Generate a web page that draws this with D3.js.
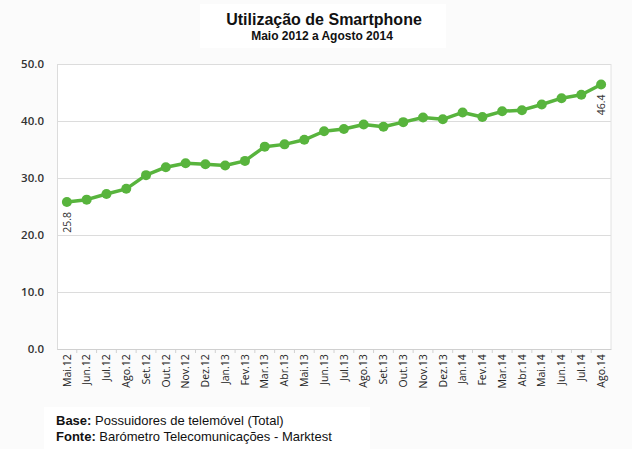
<!DOCTYPE html>
<html>
<head>
<meta charset="utf-8">
<script src="https://cdn.jsdelivr.net/npm/d3@7"></script>
<style>
  html, body { margin: 0; padding: 0; background: #fbfbfb; }
  svg { display: block; }
</style>
</head>
<body>
<div id="chart"></div>
<script>
// Months, May 2012 to August 2014
const months = ['Mai.12','Jun.12','Jul.12','Ago.12','Set.12','Out.12','Nov.12','Dez.12',
  'Jan.13','Fev.13','Mar.13','Abr.13','Mai.13','Jun.13','Jul.13','Ago.13','Set.13','Out.13','Nov.13','Dez.13',
  'Jan.14','Fev.14','Mar.14','Abr.14','Mai.14','Jun.14','Jul.14','Ago.14'];

// % smartphone usage
const usage = [25.8, 26.2, 27.2, 28.1, 30.5, 31.9, 32.6, 32.4, 32.2, 33.0, 35.5, 35.9, 36.7, 38.2,
  38.6, 39.4, 39.0, 39.8, 40.6, 40.3, 41.5, 40.7, 41.7, 41.9, 42.9, 44.0, 44.6, 46.4];

const yTicks = [0, 10, 20, 30, 40, 50];

const W = 632, H = 449;
const margin = { top: 64, right: 21, bottom: 100, left: 57 };
const iW = W - margin.left - margin.right;
const iH = H - margin.top - margin.bottom;
const green = '#58b43d';

const svg = d3.select('#chart')
  .append('svg')
  .attr('width', W)
  .attr('height', H);

// Title block
svg.append('rect')
  .attr('x', 200).attr('y', 4).attr('width', 246).attr('height', 44)
  .attr('fill', '#fff');

svg.append('text')
  .attr('x', 324).attr('y', 25)
  .attr('text-anchor', 'middle')
  .attr('font-family', 'Liberation Sans, Arial, sans-serif')
  .attr('font-weight', 'bold').attr('font-size', '16px').attr('fill', '#111')
  .text('Utilização de Smartphone');

svg.append('text')
  .attr('x', 322).attr('y', 40)
  .attr('text-anchor', 'middle')
  .attr('font-family', 'Liberation Sans, Arial, sans-serif')
  .attr('font-weight', 'bold').attr('font-size', '12px').attr('fill', '#111')
  .text('Maio 2012 a Agosto 2014');

const g = svg.append('g').attr('transform', `translate(${margin.left},${margin.top})`);

g.append('rect')
  .attr('width', iW).attr('height', iH)
  .attr('fill', '#fff');

const x = d3.scaleBand().domain(months).range([0, iW]);
const y = d3.scaleLinear().domain([0, 50]).range([iH, 0]);

// Grid lines
g.append('g')
  .call(d3.axisLeft(y).tickValues(yTicks).tickSize(-iW).tickFormat(''))
  .call(ax => ax.select('.domain').remove())
  .call(ax => ax.selectAll('line').attr('stroke', '#dcdcdc').attr('stroke-width', 1.2));

// Right edge of plot area
g.append('line')
  .attr('x1', iW).attr('x2', iW).attr('y1', 0).attr('y2', iH)
  .attr('stroke', '#e2e2e2');

// Left axis
g.append('g')
  .call(d3.axisLeft(y).tickValues(yTicks).tickSize(0).tickPadding(13).tickFormat(d3.format('.1f')))
  .call(ax => ax.select('.domain').attr('stroke', '#dcdcdc'))
  .call(ax => ax.selectAll('text')
    .attr('font-family', 'Open Sans, sans-serif')
    .attr('font-weight', 600)
    .attr('font-size', '11.5px').attr('fill', '#333'));

// Bottom axis: ticks at band boundaries
g.append('g').attr('transform', `translate(0,${iH})`)
  .call(d3.axisBottom(x).tickSize(0).tickPadding(6))
  .call(ax => ax.select('.domain').attr('stroke', '#d0d0d0'))
  .call(ax => ax.selectAll('text')
    .attr('transform', 'rotate(-90)')
    .attr('text-anchor', 'end')
    .attr('dx', '-0.5em')
    .attr('dy', '0.35em')
    .attr('y', 0)
    .attr('font-family', 'Open Sans, sans-serif')
    .attr('font-size', '10.5px').attr('fill', '#222'));

g.append('g').attr('transform', `translate(0,${iH})`)
  .selectAll('line')
  .data(months.slice(1))
  .join('line')
  .attr('x1', d => x(d)).attr('x2', d => x(d))
  .attr('y1', 0).attr('y2', 4)
  .attr('stroke', '#d0d0d0');

// Line and markers
const cx = (d, i) => x(months[i]) + x.bandwidth() / 2;

g.append('path')
  .datum(usage)
  .attr('fill', 'none')
  .attr('stroke', green)
  .attr('stroke-width', 3.5)
  .attr('stroke-linejoin', 'round')
  .attr('d', d3.line().x(cx).y(d => y(d)));

g.selectAll('circle.pt')
  .data(usage)
  .join('circle')
  .attr('class', 'pt')
  .attr('cx', cx)
  .attr('cy', d => y(d))
  .attr('r', 5)
  .attr('fill', green);

// Data labels on first and last point
[0, usage.length - 1].forEach(i => {
  const px = cx(usage[i], i), py = y(usage[i]);
  g.append('text')
    .attr('transform', `translate(${px + 4},${py + 10}) rotate(-90)`)
    .attr('text-anchor', 'end')
    .attr('font-family', 'Open Sans, sans-serif')
    .attr('font-size', '10.5px').attr('fill', '#333')
    .text(d3.format('.1f')(usage[i]));
});

// Footer notes
svg.append('rect')
  .attr('x', 44).attr('y', 407).attr('width', 326).attr('height', 42)
  .attr('fill', '#fff');

const notes = [
  { bold: 'Base:', rest: ' Possuidores de telemóvel (Total)', y: 425 },
  { bold: 'Fonte:', rest: ' Barómetro Telecomunicações - Marktest', y: 441 }
];

notes.forEach(n => {
  const t = svg.append('text')
    .attr('x', 56).attr('y', n.y)
    .attr('font-family', 'Liberation Sans, Arial, sans-serif')
    .attr('font-size', '13px').attr('fill', '#111');
  t.append('tspan').attr('font-weight', 'bold').text(n.bold);
  t.append('tspan').text(n.rest);
});
</script>
</body>
</html>
